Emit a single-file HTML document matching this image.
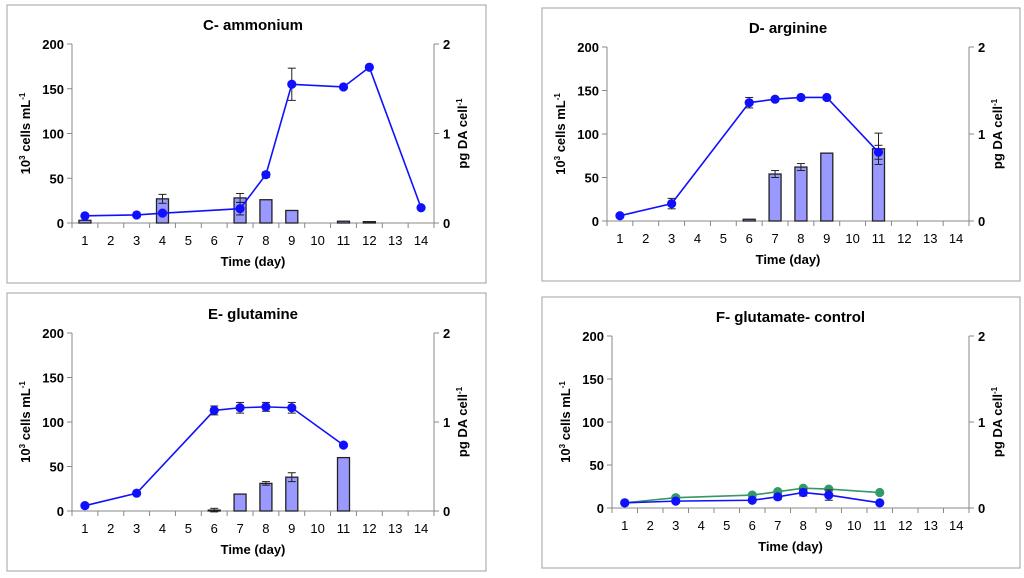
<!DOCTYPE html>
<html><head><meta charset="utf-8">
<style>
html,body{margin:0;padding:0;background:#fff;}
svg{display:block;font-family:"Liberation Sans",Arial,sans-serif;}
</style></head>
<body>
<svg id="chart" width="1024" height="578" viewBox="0 0 1024 578" xmlns="http://www.w3.org/2000/svg"></svg>
<script>
const days = [1,2,3,4,5,6,7,8,9,10,11,12,13,14];
const leftTicks = [0,50,100,150,200];
const rightTicks = [0,1,2];
// C - ammonium
const cLineDays = [1,3,4,7,8,9,11,12,14];
const cLineVals = [8,9,11,16,54,155,152,174,17];
const cLineErr  = [0,0,0,7,3,18,0,0,0];
const cBarDays = [1,4,7,8,9,11,12];
const cBarVals = [0.03,0.27,0.28,0.26,0.14,0.02,0.015];
const cBarErr  = [0,0.05,0.05,0.005,0,0,0];
// D - arginine
const dLineDays = [1,3,6,7,8,9,11];
const dLineVals = [6,20,136,140,142,142,79];
const dLineErr  = [0,6,6,0,0,0,8];
const dBarDays = [6,7,8,9,11];
const dBarVals = [0.02,0.54,0.62,0.78,0.83];
const dBarErr  = [0,0.04,0.04,0,0.18];
// E - glutamine
const eLineDays = [1,3,6,7,8,9,11];
const eLineVals = [6,20,113,116,117,116,74];
const eLineErr  = [0,0,5,6,5,6,0];
const eBarDays = [6,7,8,9,11];
const eBarVals = [0.01,0.19,0.31,0.38,0.60];
const eBarErr  = [0.02,0,0.02,0.05,0];
// F - glutamate control
const fLineDays = [1,3,6,7,8,9,11];
const fLineVals = [6,8,9,13,18,15,6];
const fLineErr  = [0,2,0,3,4,6,0];
const fGreenVals = [6,12,15,19,23,22,18];

const NS="http://www.w3.org/2000/svg";
const svg=document.getElementById('chart');
function mk(tag,attrs,parent){const e=document.createElementNS(NS,tag);for(const k in attrs)e.setAttribute(k,attrs[k]);(parent||svg).appendChild(e);return e;}

function panel(p){
  const g=mk('g',{});
  
  
  const fr=mk('rect',{x:p.fx,y:p.fy,width:p.fw,height:p.fh,fill:'#fff',stroke:'#b0b0b0','stroke-width':1.2},g);
  
  
  const L=p.l,R=p.r,T=p.t,B=p.b,bw=(R-L)/days.length;
  const xc=d=>L+(d-0.5)*bw;
  const yl=v=>B-(v/200)*(B-T);
  const yr=v=>B-(v/2)*(B-T);
  const t=mk('text',{x:(L+R)/2,y:T-14,'text-anchor':'middle','font-size':15,'font-weight':'bold'},g);
  t.textContent=p.title;
  
  
  mk('line',{x1:L,y1:T,x2:L,y2:B,stroke:'#888','stroke-width':1},g);
  mk('line',{x1:R,y1:T,x2:R,y2:B,stroke:'#888','stroke-width':1},g);
  mk('line',{x1:L,y1:B,x2:R,y2:B,stroke:'#888','stroke-width':1},g);
  leftTicks.forEach(v=>{
    mk('line',{x1:L-5,y1:yl(v),x2:L,y2:yl(v),stroke:'#888'},g);
    const tx=mk('text',{x:L-8,y:yl(v)+5,'text-anchor':'end','font-size':13,'font-weight':'bold'},g);
    tx.textContent=v;
    
    
  });
  rightTicks.forEach(v=>{
    mk('line',{x1:R,y1:yr(v),x2:R+5,y2:yr(v),stroke:'#888'},g);
    const tx=mk('text',{x:R+9,y:yr(v)+5,'font-size':13,'font-weight':'bold'},g);
    tx.textContent=v;
    
    
  });
  for(let i=0;i<=days.length;i++){mk('line',{x1:L+i*bw,y1:B,x2:L+i*bw,y2:B+5,stroke:'#888'},g);}
  days.forEach(d=>{
    const tx=mk('text',{x:xc(d),y:B+22,'text-anchor':'middle','font-size':13},g);
    tx.textContent=d;
    
    
  });
  const xt=mk('text',{x:(L+R)/2,y:B+43,'text-anchor':'middle','font-size':13,'font-weight':'bold'},g);
  xt.textContent='Time (day)';
  
  
  const yt=mk('text',{transform:`translate(${L-42},${(T+B)/2}) rotate(-90)`,'text-anchor':'middle','font-size':13,'font-weight':'bold'},g);
  yt.innerHTML='10<tspan dy="-5" font-size="8">3</tspan><tspan dy="5"> cells mL</tspan><tspan dy="-5" font-size="8">-1</tspan>';
  
  
  const rt=mk('text',{transform:`translate(${R+33},${(T+B)/2}) rotate(-90)`,'text-anchor':'middle','font-size':13,'font-weight':'bold'},g);
  rt.innerHTML='pg DA cell<tspan dy="-5" font-size="8">-1</tspan>';
  
  
  if(p.barDays){
    p.barDays.forEach((d,i)=>{
      const v=p.barVals[i];
      const r=mk('rect',{x:xc(d)-6,y:yr(v),width:12,height:B-yr(v),fill:'#9999ff',stroke:'#222','stroke-width':1.3},g);
      
      
      const e=p.barErr[i];
      if(e>0.006){
        mk('line',{x1:xc(d),y1:yr(v+e),x2:xc(d),y2:yr(v-e),stroke:'#222'},g);
        mk('line',{x1:xc(d)-4,y1:yr(v+e),x2:xc(d)+4,y2:yr(v+e),stroke:'#222'},g);
        mk('line',{x1:xc(d)-4,y1:yr(v-e),x2:xc(d)+4,y2:yr(v-e),stroke:'#222'},g);
      }
    });
  }
  function series(ds,vs,es,color,nm){
    const pl=mk('polyline',{points:ds.map((d,i)=>xc(d)+','+yl(vs[i])).join(' '),fill:'none',stroke:color,'stroke-width':1.6},g);
    
    
    ds.forEach((d,i)=>{
      const e=es?es[i]:0;
      if(e>0){
        mk('line',{x1:xc(d),y1:yl(vs[i]+e),x2:xc(d),y2:yl(vs[i]-e),stroke:'#222'},g);
        mk('line',{x1:xc(d)-4,y1:yl(vs[i]+e),x2:xc(d)+4,y2:yl(vs[i]+e),stroke:'#222'},g);
        mk('line',{x1:xc(d)-4,y1:yl(vs[i]-e),x2:xc(d)+4,y2:yl(vs[i]-e),stroke:'#222'},g);
      }
      const c=mk('circle',{cx:xc(d),cy:yl(vs[i]),r:4.6,fill:color},g);
      
      
    });
  }
  if(p.green) series(p.lineDays,p.green,null,'#339966','green-series');
  series(p.lineDays,p.lineVals,p.lineErr,'#1010ff','cells-series');
}
panel({name:'panel-c-ammonium',title:'C- ammonium',fx:7,fy:5,fw:479,fh:278,l:72,r:434,t:44,b:223,
  lineDays:cLineDays,lineVals:cLineVals,lineErr:cLineErr,barDays:cBarDays,barVals:cBarVals,barErr:cBarErr});
panel({name:'panel-d-arginine',title:'D- arginine',fx:542,fy:8,fw:478,fh:273,l:607,r:969,t:47,b:221,
  lineDays:dLineDays,lineVals:dLineVals,lineErr:dLineErr,barDays:dBarDays,barVals:dBarVals,barErr:dBarErr});
panel({name:'panel-e-glutamine',title:'E- glutamine',fx:7,fy:293,fw:479,fh:278,l:72,r:434,t:333,b:511,
  lineDays:eLineDays,lineVals:eLineVals,lineErr:eLineErr,barDays:eBarDays,barVals:eBarVals,barErr:eBarErr});
panel({name:'panel-f-glutamate-control',title:'F- glutamate- control',fx:542,fy:297,fw:478,fh:271,l:612,r:969,t:336,b:508,
  lineDays:fLineDays,lineVals:fLineVals,lineErr:fLineErr,green:fGreenVals});
</script>
</body></html>
